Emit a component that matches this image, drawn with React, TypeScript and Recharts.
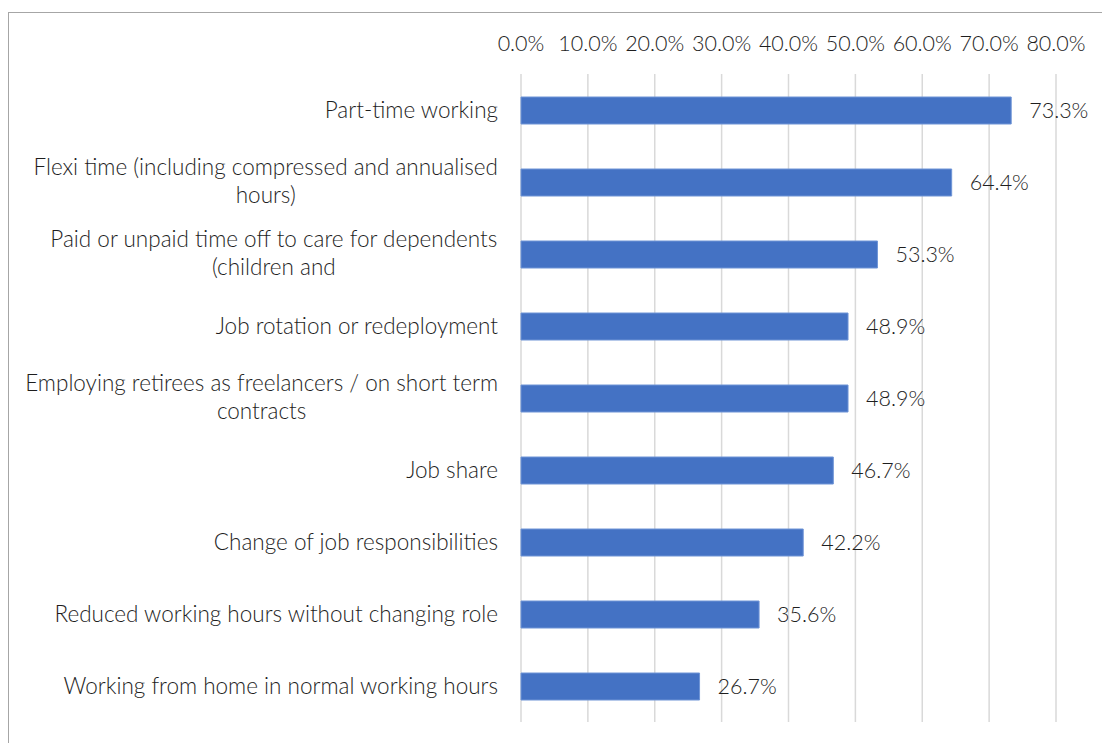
import { BarChart, Bar, XAxis, YAxis, CartesianGrid, LabelList } from 'recharts';

const categories = [
  'Part-time working',
  'Flexi time (including compressed and annualised\nhours)',
  'Paid or unpaid time off to care for dependents\n(children and',
  'Job rotation or redeployment',
  'Employing retirees as freelancers / on short term\ncontracts',
  'Job share',
  'Change of job responsibilities',
  'Reduced working hours without changing role',
  'Working from home in normal working hours',
];
const shares = [73.3, 64.4, 53.3, 48.9, 48.9, 46.7, 42.2, 35.6, 26.7];
const xTicks = [0, 10, 20, 30, 40, 50, 60, 70, 80];

const FONT = 'Lato, "Open Sans", sans-serif';
const FONT_SIZE = 22.5;
const WEIGHT = 300;
const TEXT = '#1e1e1e';

const data = categories.map((name, i) => ({ name, value: shares[i] }));

let ctx: CanvasRenderingContext2D | null = null;
function measure(s: string): number {
  if (!ctx) ctx = document.createElement('canvas').getContext('2d');
  if (!ctx) return s.length * FONT_SIZE * 0.5;
  ctx.font = `${WEIGHT} ${FONT_SIZE}px Lato`;
  return ctx.measureText(s).width;
}

function CategoryTick(props: any) {
  const { x, y, payload } = props;
  const lines: string[] = String(payload.value).split('\n');
  const right = x;
  if (lines.length === 1) {
    return (
      <text x={right} y={y} dy="0.35em" textAnchor="end" fill={TEXT} fontSize={FONT_SIZE} fontWeight={WEIGHT} fontFamily={FONT}>
        {lines[0]}
      </text>
    );
  }
  const w = measure(lines[0]);
  const cx = right - w / 2;
  const lh = 28;
  const top = y - ((lines.length - 1) * lh) / 2 - 1;
  return (
    <text fill={TEXT} fontSize={FONT_SIZE} fontWeight={WEIGHT} fontFamily={FONT} textAnchor="middle">
      {lines.map((l, i) => (
        <tspan key={i} x={cx} y={top + i * lh} dy="0.35em">
          {l}
        </tspan>
      ))}
    </text>
  );
}

function PercentTick(props: any) {
  const { x, payload } = props;
  return (
    <text x={x} y={30} dy="0.35em" textAnchor="middle" fill={TEXT} fontSize={21.5} fontWeight={WEIGHT} fontFamily={FONT}>
      {`${Number(payload.value).toFixed(1)}%`}
    </text>
  );
}

export default function App() {
  return (
    <div
      style={{
        position: 'relative',
        top: 4,
        width: 1110,
        height: 740,
        borderLeft: '1px solid #a6a6a6',
        borderTop: '1px solid #a6a6a6',
        background: '#fff',
      }}
    >
      <BarChart
        width={1100}
        height={730}
        data={data}
        layout="vertical"
        margin={{ top: 0, right: 53, bottom: 21, left: 0 }}
        barSize={27}
      >
        <CartesianGrid horizontal={false} stroke="#d9d9d9" strokeWidth={1.5} />
        <XAxis
          type="number"
          orientation="top"
          domain={[0, 80]}
          ticks={xTicks}
          height={61}
          axisLine={false}
          tickLine={false}
          tick={<PercentTick />}
          interval={0}
        />
        <YAxis
          type="category"
          dataKey="name"
          width={512}
          axisLine={false}
          tickLine={false}
          tickSize={0}
          tickMargin={23}
          tick={<CategoryTick />}
          interval={0}
        />
        <Bar dataKey="value" fill="#4472C4" stroke="#6f94d6" strokeWidth={1} isAnimationActive={false}>
          <LabelList
            dataKey="value"
            position="right"
            offset={18}
            formatter={(v: any) => `${Number(v).toFixed(1)}%`}
            fill={TEXT}
            fontSize={21.5}
            fontWeight={WEIGHT}
            fontFamily={FONT}
          />
        </Bar>
      </BarChart>
    </div>
  );
}
